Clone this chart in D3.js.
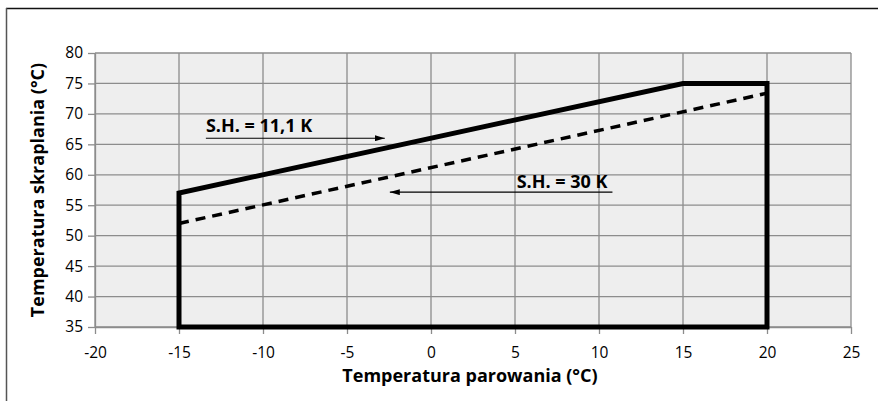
<!DOCTYPE html>
<html>
<head>
<meta charset="utf-8">
<script src="https://cdn.jsdelivr.net/npm/d3@7"></script>
<style>
  body { margin: 0; background: #fff; }
  text { font-family: "Open Sans", sans-serif; fill: #000; }
</style>
</head>
<body>
<svg id="chart" width="878" height="401"></svg>
<script>
// envelope for S.H. = 11,1 K (closed outline)
const envelopeX = [-15, -15, 15, 20, 20, -15];
const envelopeY = [35, 57, 75, 75, 35, 35];
// S.H. = 30 K upper limit (dashed)
const dashedX = [-15, 20];
const dashedY = [52, 73.4];

const xTicks = [-20, -15, -10, -5, 0, 5, 10, 15, 20, 25];
const yTicks = [35, 40, 45, 50, 55, 60, 65, 70, 75, 80];

const xTitle = "Temperatura parowania (°C)";
const yTitle = "Temperatura skraplania (°C)";

// annotations in data units: text start, baseline, arrow from -> to, arrow level
const notes = [
  { label: "S.H. = 11,1 K", x: -13.4, y: 67.0, ax0: -13.4, ax1: -2.75, ay: 66.0 },
  { label: "S.H. = 30 K", x: 5.1, y: 57.8, ax0: 10.8, ax1: -2.45, ay: 57.15 }
];

const svg = d3.select("#chart");
const margin = { top: 53, right: 27, bottom: 74, left: 95 };
const width = +svg.attr("width") - margin.left - margin.right;
const height = +svg.attr("height") - margin.top - margin.bottom;

// outer frame
svg.append("line").attr("x1", 6).attr("x2", 878).attr("y1", 8.5).attr("y2", 8.5)
  .attr("stroke", "#111").attr("stroke-width", 1.5);
svg.append("line").attr("x1", 6.5).attr("x2", 6.5).attr("y1", 8).attr("y2", 401)
  .attr("stroke", "#555").attr("stroke-width", 1.5);

const g = svg.append("g").attr("transform", `translate(${margin.left},${margin.top})`);

const x = d3.scaleLinear().domain([-20, 25]).range([0, width]);
const y = d3.scaleLinear().domain([35, 80]).range([height, 0]);

g.append("rect").attr("width", width).attr("height", height).attr("fill", "#eeeeee");

// grid
g.selectAll(".vgrid").data(xTicks).enter().append("line")
  .attr("x1", d => x(d)).attr("x2", d => x(d)).attr("y1", 0).attr("y2", height)
  .attr("stroke", "#8c8c8c").attr("stroke-width", 1.3);
g.selectAll(".hgrid").data(yTicks).enter().append("line")
  .attr("x1", 0).attr("x2", width).attr("y1", d => y(d)).attr("y2", d => y(d))
  .attr("stroke", "#8c8c8c").attr("stroke-width", 1.3);

// axes
const xAxis = g.append("g").attr("transform", `translate(0,${height})`)
  .call(d3.axisBottom(x).tickValues(xTicks).tickFormat(d => String(d))
    .tickSize(7).tickSizeOuter(0).tickPadding(13));
const yAxis = g.append("g")
  .call(d3.axisLeft(y).tickValues(yTicks).tickFormat(d => String(d))
    .tickSize(7).tickSizeOuter(0).tickPadding(5));
[xAxis, yAxis].forEach(a => {
  a.select(".domain").attr("stroke", "#8c8c8c").attr("stroke-width", 1.3);
  a.selectAll(".tick line").attr("stroke", "#8c8c8c").attr("stroke-width", 1.3);
  a.selectAll("text").style("font-size", "15.5px").style("font-family", "'Open Sans', sans-serif").attr("fill", "#000");
});

const line = d3.line().x(d => x(d[0])).y(d => y(d[1]));

g.append("path")
  .attr("d", line(d3.zip(dashedX, dashedY)))
  .attr("fill", "none").attr("stroke", "#000").attr("stroke-width", 3.5)
  .attr("stroke-dasharray", "10,7");

g.append("path")
  .attr("d", line(d3.zip(envelopeX, envelopeY)))
  .attr("fill", "none").attr("stroke", "#000").attr("stroke-width", 5)
  .attr("stroke-linejoin", "miter").attr("stroke-linecap", "square");

// arrows
svg.append("defs").append("marker")
  .attr("id", "arr").attr("viewBox", "0 0 10 6").attr("refX", 10).attr("refY", 3)
  .attr("markerWidth", 10).attr("markerHeight", 6).attr("markerUnits", "userSpaceOnUse")
  .attr("orient", "auto")
  .append("path").attr("d", "M0,0L10,3L0,6Z").attr("fill", "#000");

notes.forEach(n => {
  g.append("text")
    .attr("x", x(n.x)).attr("y", y(n.y))
    .style("font-size", "18px").style("font-weight", "bold")
    .text(n.label);
  g.append("line")
    .attr("x1", x(n.ax0)).attr("x2", x(n.ax1))
    .attr("y1", y(n.ay)).attr("y2", y(n.ay))
    .attr("stroke", "#000").attr("stroke-width", 1.2)
    .attr("marker-end", "url(#arr)");
});

// axis titles
svg.append("text")
  .attr("x", margin.left + width / 2 - 3).attr("y", 382)
  .attr("text-anchor", "middle")
  .style("font-size", "18px").style("font-weight", "bold")
  .text(xTitle);
svg.append("text")
  .attr("transform", `translate(44,${margin.top + height / 2}) rotate(-90)`)
  .attr("text-anchor", "middle")
  .style("font-size", "18px").style("font-weight", "bold")
  .text(yTitle);
</script>
</body>
</html>
